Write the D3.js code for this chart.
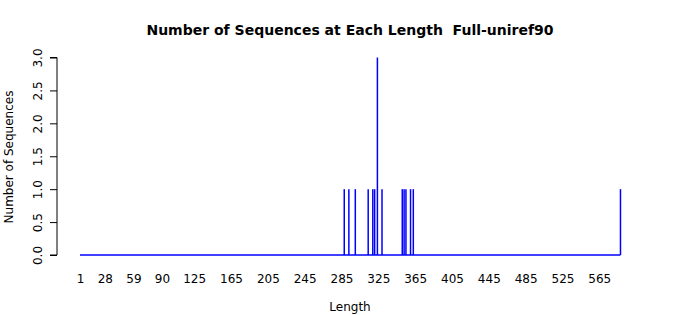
<!DOCTYPE html>
<html lang="en">
<head>
    <meta charset="UTF-8">
    <title>Number of Sequences at Each Length</title>
    <script src="https://d3js.org/d3.v7.min.js"></script>
    <style>
        body { margin: 0; background: #fff; }
        text { font-family: "DejaVu Sans", sans-serif; }
    </style>
</head>
<body>
    <svg></svg>
    <script>
        // Lengths that have sequences, and how many
        const lengths = [288, 293, 300, 314, 319, 321, 324, 329, 351, 353, 355, 360, 363, 588];
        const counts  = [1,   1,   1,   1,   1,   1,   3,   1,   1,   1,   1,   1,   1,   1];
        const lengthRange = [1, 588];
        const xTicks = [1, 28, 59, 90, 125, 165, 205, 245, 285, 325, 365, 405, 445, 485, 525, 565];
        const yTicks = [0, 0.5, 1, 1.5, 2, 2.5, 3];

        const W = 700, H = 315;
        const svg = d3.select("svg").attr("width", W).attr("height", H);

        const x = d3.scaleLinear().domain([1, 565]).range([80, 599.3]);
        const y = d3.scaleLinear().domain([0, 3]).range([255, 57.5]);

        // baseline at zero
        svg.append("line")
            .attr("x1", x(lengthRange[0])).attr("x2", x(lengthRange[1]))
            .attr("y1", y(0)).attr("y2", y(0))
            .attr("stroke", "#0000ff")
            .attr("stroke-width", 1.3);

        // vertical spikes
        svg.append("g")
            .selectAll("line")
            .data(lengths.map((L, i) => ({L: L, n: counts[i]})))
            .enter()
            .append("line")
            .attr("x1", d => x(d.L)).attr("x2", d => x(d.L))
            .attr("y1", y(0)).attr("y2", d => y(d.n))
            .attr("stroke", "#0000ff")
            .attr("stroke-width", 1.5);

        // Y axis
        const yAxis = svg.append("g")
            .attr("transform", "translate(57,0)")
            .call(d3.axisLeft(y).tickValues(yTicks).tickSize(7).tickFormat(d3.format(".1f")));
        yAxis.selectAll("path, line").attr("stroke", "#000");
        yAxis.select(".domain").attr("d", `M-7,${y(3)}H0V${y(0)}H-7`);
        yAxis.selectAll("text")
            .attr("font-size", 12)
            .attr("font-family", "DejaVu Sans")
            .attr("fill", "#000")
            .attr("text-anchor", "middle")
            .attr("x", 0).attr("dy", null).attr("y", 0)
            .attr("transform", "translate(-15,0) rotate(-90)");

        // X axis (labels only)
        const xAxis = svg.append("g")
            .attr("transform", "translate(0,266)")
            .call(d3.axisBottom(x).tickValues(xTicks).tickSize(0).tickPadding(0));
        xAxis.select(".domain").remove();
        xAxis.selectAll("text")
            .attr("font-size", 12)
            .attr("font-family", "DejaVu Sans")
            .attr("fill", "#000")
            .attr("dy", "0.71em")
            .attr("y", 8);

        // Titles
        svg.append("text")
            .attr("x", 350).attr("y", 35)
            .attr("text-anchor", "middle")
            .attr("font-size", 14).attr("font-weight", "bold")
            .style("white-space", "pre")
            .text("Number of Sequences at Each Length  Full-uniref90");
        svg.append("text")
            .attr("x", 350).attr("y", 311)
            .attr("text-anchor", "middle")
            .attr("font-size", 12)
            .text("Length");
        svg.append("text")
            .attr("transform", "translate(13,157) rotate(-90)")
            .attr("text-anchor", "middle")
            .attr("font-size", 12)
            .text("Number of Sequences");
    </script>
</body>
</html>
